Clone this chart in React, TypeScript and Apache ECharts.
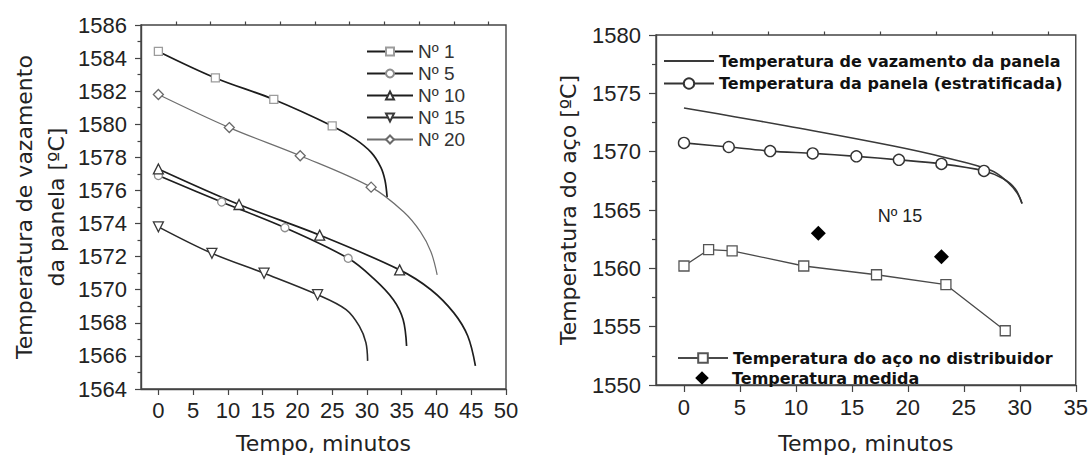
import React, { useEffect, useRef } from "react";
import * as echarts from "echarts";

// ---------- Left chart data (Temperatura de vazamento da panela) ----------
const leftNames = ["Nº 1", "Nº 5", "Nº 10", "Nº 15", "Nº 20"];
const n1Marked = [[0, 1584.4], [8.2, 1582.8], [16.6, 1581.5], [25.0, 1579.9]];
const n1Tail = [[28.3, 1579.1], [30.6, 1578.3], [32.0, 1577.4], [32.6, 1576.6], [32.9, 1575.6]];
const n5Marked = [[0, 1576.9], [9.1, 1575.3], [18.2, 1573.75], [27.3, 1571.9]];
const n5Tail = [[30.9, 1570.7], [33.8, 1569.4], [35.2, 1568.2], [35.7, 1566.6]];
const n10Marked = [[0, 1577.3], [11.6, 1575.15], [23.2, 1573.3], [34.7, 1571.2]];
const n10Tail = [[39.2, 1570.0], [42.5, 1568.6], [44.5, 1567.2], [45.6, 1565.4]];
const n15Marked = [[0, 1573.8], [7.7, 1572.2], [15.2, 1571.0], [22.9, 1569.7]];
const n15Tail = [[27.0, 1568.8], [28.9, 1567.8], [29.85, 1566.8], [30.1, 1565.7]];
const n20Marked = [[0, 1581.8], [10.2, 1579.8], [20.4, 1578.1], [30.6, 1576.2]];
const n20Tail = [[35.3, 1574.7], [37.7, 1573.5], [39.2, 1572.3], [40.1, 1570.9]];
const leftXTicks = [0, 5, 10, 15, 20, 25, 30, 35, 40, 45, 50];
const leftXMinor = [2.5, 7.5, 12.5, 17.5, 22.5, 27.5, 32.5, 37.5, 42.5, 47.5];

// ---------- Right chart data (Nº 15) ----------
const vazName = "Temperatura de vazamento da panela";
const estName = "Temperatura da panela (estratificada)";
const distName = "Temperatura do aço no distribuidor";
const medName = "Temperatura medida";
const vazData = [[0, 1573.75], [4.5, 1573.0], [9.2, 1572.2], [18.6, 1570.5], [23.3, 1569.5], [27.4, 1568.4], [28.9, 1567.4], [29.8, 1566.4], [30.2, 1565.55]];
const estMarked = [[0, 1570.75], [4.0, 1570.4], [7.7, 1570.05], [11.5, 1569.85], [15.4, 1569.6], [19.2, 1569.3], [23.0, 1568.95], [26.8, 1568.35]];
const estTail = [[28.5, 1567.7], [29.6, 1566.8], [30.2, 1565.55]];
const distData = [[0, 1560.2], [2.2, 1561.6], [4.3, 1561.5], [10.7, 1560.2], [17.2, 1559.45], [23.4, 1558.6], [28.7, 1554.65]];
const medData = [[12.0, 1563.0], [23.0, 1561.0]];
const rightXTicks = [0, 5, 10, 15, 20, 25, 30, 35];
const rightXMinor = [2.5, 7.5, 12.5, 17.5, 22.5, 27.5, 32.5];
const annotation = "Nº 15";

const ARIAL = "Liberation Sans";
const DEJAVU = "DejaVu Sans";
const AX = "#444";

function withTail(marked: number[][], tail: number[][]) {
  return [
    ...marked.map((p) => ({ value: p })),
    ...tail.map((p) => ({ value: p, symbol: "none" })),
  ].sort((a, b) => a.value[0] - b.value[0]);
}

const invTri = "path://M0,0 L10,0 L5,9 Z";
const plain = (v: number) => String(v);

function mainX(grid: number, min: number, max: number, ticks: number[], gap: number, margin: number, tlen: number) {
  return {
    type: "value",
    gridIndex: grid,
    min,
    max,
    axisLine: { show: true, onZero: false, lineStyle: { color: AX, width: 1.4 } },
    axisTick: { show: true, length: tlen, customValues: ticks, lineStyle: { color: AX, width: 1.2 } },
    axisLabel: { customValues: ticks, fontSize: 22, fontFamily: ARIAL, color: "#222", margin, formatter: plain },
    splitLine: { show: false },
    name: "Tempo, minutos",
    nameLocation: "middle",
    nameGap: gap,
    nameTextStyle: { fontSize: 22, fontFamily: DEJAVU, color: "#222" },
  };
}

function minorX(grid: number, min: number, max: number, ticks: number[]) {
  return {
    type: "value",
    gridIndex: grid,
    min,
    max,
    axisLine: { show: false },
    axisTick: { show: true, length: 3.5, customValues: ticks, lineStyle: { color: AX, width: 1.2 } },
    axisLabel: { show: false },
    splitLine: { show: false },
  };
}

export default function App() {
  const ref = useRef<HTMLDivElement>(null);
  useEffect(() => {
    if (!ref.current) return;
    const chart = echarts.init(ref.current, undefined, { renderer: "svg" });
    const leftSeriesCfg = [
      { name: leftNames[0], m: n1Marked, t: n1Tail, symbol: "rect", size: 8, line: "#1c1c1c", lw: 1.7, border: "#9c9c9c" },
      { name: leftNames[1], m: n5Marked, t: n5Tail, symbol: "circle", size: 8, line: "#1e1e1e", lw: 1.7, border: "#8e8e8e" },
      { name: leftNames[2], m: n10Marked, t: n10Tail, symbol: "triangle", size: 10, line: "#1e1e1e", lw: 1.7, border: "#333" },
      { name: leftNames[3], m: n15Marked, t: n15Tail, symbol: invTri, size: 10, line: "#2a2a2a", lw: 1.6, border: "#3a3a3a" },
      { name: leftNames[4], m: n20Marked, t: n20Tail, symbol: "diamond", size: 10, line: "#6e6e6e", lw: 1.2, border: "#6a6a6a" },
    ];
    const series: any[] = leftSeriesCfg.map((c) => ({
      type: "line",
      name: c.name,
      xAxisIndex: 0,
      yAxisIndex: 0,
      smooth: 0.35,
      data: withTail(c.m, c.t),
      symbol: c.symbol,
      symbolSize: c.size,
      lineStyle: { color: c.line, width: c.lw },
      itemStyle: { color: "#fff", borderColor: c.border, borderWidth: 1.3 },
      z: 3,
    }));
    series.push(
      {
        type: "line",
        name: vazName,
        xAxisIndex: 1,
        yAxisIndex: 1,
        smooth: 0.4,
        data: vazData,
        symbol: "none",
        lineStyle: { color: "#3a3a3a", width: 1.6 },
        itemStyle: { color: "#3a3a3a" },
      },
      {
        type: "line",
        name: estName,
        xAxisIndex: 1,
        yAxisIndex: 1,
        smooth: 0.3,
        data: withTail(estMarked, estTail),
        symbol: "circle",
        symbolSize: 11,
        lineStyle: { color: "#333", width: 1.6 },
        itemStyle: { color: "#fff", borderColor: "#333", borderWidth: 1.4 },
        z: 3,
      },
      {
        type: "line",
        name: distName,
        xAxisIndex: 1,
        yAxisIndex: 1,
        data: distData,
        symbol: "rect",
        symbolSize: 10,
        lineStyle: { color: "#4a4a4a", width: 1.3 },
        itemStyle: { color: "#fff", borderColor: "#555", borderWidth: 1.3 },
        z: 3,
      },
      {
        type: "line",
        name: medName,
        xAxisIndex: 1,
        yAxisIndex: 1,
        data: medData,
        symbol: "diamond",
        symbolSize: 15,
        lineStyle: { opacity: 0, width: 0 },
        itemStyle: { color: "#000" },
        z: 4,
      }
    );

    const boldText = { fontSize: 16, fontFamily: DEJAVU, fontWeight: "bold", color: "#111" };
    chart.setOption({
      animation: false,
      backgroundColor: "#fff",
      grid: [
        { left: 141, top: 25, width: 365, height: 367, show: true, borderColor: AX, borderWidth: 1.4, backgroundColor: "transparent" },
        { left: 656, top: 35, width: 420, height: 354, show: true, borderColor: AX, borderWidth: 1.4, backgroundColor: "transparent" },
      ],
      xAxis: [
        mainX(0, -2.5, 50, leftXTicks, 43, 10, 6),
        mainX(1, -2.5, 35, rightXTicks, 47, 11, 7),
        minorX(0, -2.5, 50, leftXMinor),
        minorX(1, -2.5, 35, rightXMinor),
      ],
      yAxis: [
        {
          type: "value",
          gridIndex: 0,
          min: 1564,
          max: 1586,
          interval: 2,
          axisLine: { show: true, onZero: false, lineStyle: { color: AX, width: 1.4 } },
          axisTick: { show: true, length: 6, lineStyle: { color: AX, width: 1.2 } },
          minorTick: { show: true, splitNumber: 2, length: 3.5, lineStyle: { color: AX, width: 1.2 } },
          axisLabel: { fontSize: 22, fontFamily: ARIAL, color: "#222", margin: 14, formatter: plain },
          splitLine: { show: false },
          minorSplitLine: { show: false },
          name: "Temperatura de vazamento\nda panela [ºC]",
          nameLocation: "middle",
          nameRotate: 90,
          nameGap: 69,
          nameTextStyle: { fontSize: 22, fontFamily: DEJAVU, color: "#222", lineHeight: 32 },
        },
        {
          type: "value",
          gridIndex: 1,
          min: 1550,
          max: 1580,
          interval: 5,
          axisLine: { show: true, onZero: false, lineStyle: { color: AX, width: 1.4 } },
          axisTick: { show: true, length: 7, lineStyle: { color: AX, width: 1.2 } },
          minorTick: { show: true, splitNumber: 2, length: 4, lineStyle: { color: AX, width: 1.2 } },
          axisLabel: { fontSize: 22, fontFamily: ARIAL, color: "#222", margin: 15, formatter: plain },
          splitLine: { show: false },
          minorSplitLine: { show: false },
          name: "Temperatura do aço [ºC]",
          nameLocation: "middle",
          nameRotate: 90,
          nameGap: 77,
          nameTextStyle: { fontSize: 22, fontFamily: DEJAVU, color: "#222" },
        },
      ],
      legend: [
        {
          data: leftNames,
          orient: "vertical",
          left: 361,
          top: 37,
          itemWidth: 46,
          itemHeight: 10,
          itemGap: 3,
          selectedMode: false,
          textStyle: { fontSize: 19, fontFamily: ARIAL, color: "#333" },
        },
        {
          data: [vazName],
          left: 658,
          top: 48,
          itemWidth: 50,
          itemHeight: 13,
          selectedMode: false,
          itemStyle: { opacity: 0 },
          textStyle: boldText,
        },
        {
          data: [estName],
          left: 658,
          top: 70.5,
          itemWidth: 50,
          itemHeight: 13,
          selectedMode: false,
          textStyle: boldText,
        },
        {
          data: [distName],
          left: 672,
          top: 345,
          itemWidth: 50,
          itemHeight: 12,
          selectedMode: false,
          textStyle: boldText,
        },
        {
          data: [medName],
          left: 672,
          top: 365,
          itemWidth: 50,
          itemHeight: 17,
          selectedMode: false,
          lineStyle: { opacity: 0 },
          textStyle: boldText,
        },
      ],
      graphic: [
        {
          type: "text",
          x: 900,
          y: 216,
          style: {
            text: annotation,
            fontSize: 18,
            fontFamily: ARIAL,
            fill: "#222",
            textAlign: "center",
            textVerticalAlign: "middle",
          },
        },
      ],
      series,
    });
    return () => chart.dispose();
  }, []);
  return (
    <div
      ref={ref}
      style={{ position: "absolute", left: 0, top: 0, width: 1091, height: 459, background: "#fff" }}
    />
  );
}
